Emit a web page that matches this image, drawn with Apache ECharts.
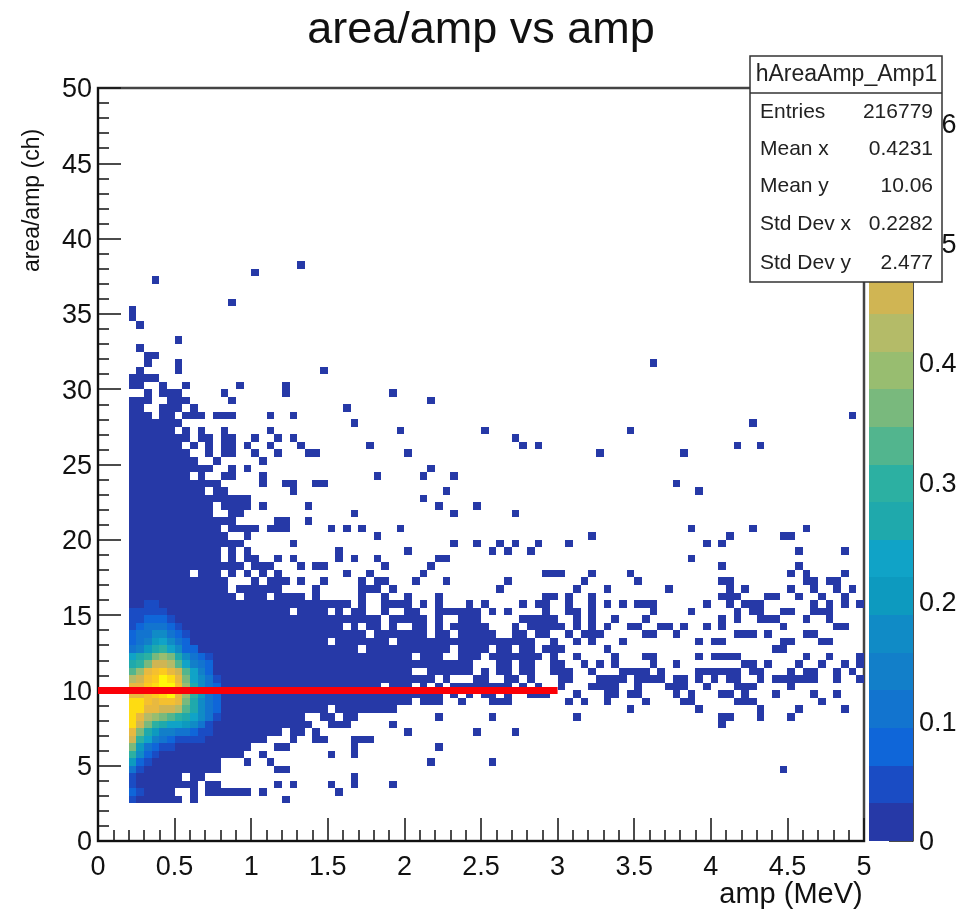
<!DOCTYPE html>
<html><head><meta charset="utf-8">
<style>html,body{margin:0;padding:0;background:#fff}#c{width:961px;height:912px}</style>
<script src="https://cdn.jsdelivr.net/npm/echarts@6/dist/echarts.min.js"></script>
</head><body><div id="c"></div>
<script>
const xBinWidth = 0.05;
const yBinWidth = 0.5;
const zStep = 0.0315;
const paletteColors = ['#2639a7','#1a4cc4','#0f66d9','#1274cf','#127fc9','#108bc6','#0d9abf','#10a3c7','#1fa9ac','#2cb0a2','#52b58e','#79b97d','#98bd70','#b4bb68','#d0b553','#e8b940','#f5c02f','#fcca1e','#fedc12','#fff60a'];
const colorBandLevels = [0,1,2,3,4,5,6,7,8,9,10,11,12,13,14,15,16,17,18,19];
// occupied bins: [row index, column indices / ranges]
const occupiedRows = [
[76,"26"],[75,"20"],[74,"7"],[71,"17"],[70,"4"],[69,"4"],[68,"5"],[66,"10"],[65,"5"],[64,"6 7"],[63,"6 10 72"],[62,"5 10 29"],
[61,"4-7"],[60,"4 5 8 11 18 24"],[59,"6 8-10 16 24 38"],[58,"4-6 9-11 17 43"],[57,"4 5 8-10 12 32"],
[56,"4-6 8 9 11-13 15-17 22 25 98"],[55,"4-10 33 85"],[54,"4-9 11 13 16 22 39 50 69"],
[53,"4-11 13 14 16 17 20 23 25 54"],[52,"4-10 12 14 16 17 19 22 26 35 55 57 83 86"],
[51,"4-11 14 16 17 20 23 27 28 40 65 76"],[50,"4-12 15 21"],[49,"4-14 17 19 43"],[48,"4-11 13 16 17 21 36 42 46"],
[47,"4-15 21 24 25 28 29 75"],[46,"4-13 15 16 25 45 78"],[45,"4-19 42"],[44,"4-14 16-19 21 27 44 49"],
[43,"4-14 17 18 33 46 54"],[42,"4-17 23 24 27"],[41,"4-15 17-20 22-24 30 32 34 39 77 85 92"],
[40,"4-16 19 36 64 82 89 90"],[39,"4-18 25 46 49 52 54 57 61 79 81"],[38,"4-15 17 19 31 40 51 53 56 91 97"],
[37,"4-15 17 19 20 23 25 31 33 36 44 45 77"],[36,"4-18 20-22 26 28 29 37 43 81 91"],
[35,"4-11 13-15 17 19 21 23 32 35 42 58-60 64 69 90 92 97"],
[34,"4-16 20 22-24 26 29 34 36 37 41 45 53 63 70 81 82 92 93 95 96"],
[33,"4-16 18-23 28 34-36 38 52 62 66 74 82 84 90 93 96 98"],
[32,"4-17 19-21 23-26 28 34 37 40 44 58 59 61 64 81-83 87 88 91 94 97"],
[31,"4-32 34 37-40 42 44 48 50 55 57 58 61 64 66 68 70-72 79 82 84-86 93 95 97 99"],
[30,"4-24 26-29 31 33 34 37 40 41 44-49 51 53 58 61 62 64 72 77 83 85 86 89 90 93-95"],
[29,"4-36 38-42 44 47-49 55-59 62 64 67 71 81 83 86-88 92 95"],
[28,"4-31 33 35 36 38 41 42 44 46-50 54 56-60 62 64 66 69 70 73 74 76 79 81 89 96 97"],
[27,"4-34 36-42 44 45 47-51 54 55 57 58 61 63-65 71 72 75 83-85 87 92 93"],
[26,"4-29 31-37 39-56 59 62 64 68 78 80 81 89 90 94 95"],
[25,"4-33 35-45 47-50 52 53 55 56 58-60 66 88 89"],
[24,"4-40 42-44 47-49 51-57 59 62 67 71 72 78 80-83 92 95 99"],
[23,"4-48 52 53 55 56 59 60 63 65 67 72 75 84 85 87 91 94 97 99"],
[22,"4-40 43-48 50 52 53 55 56 59-61 64 68-71 73 78-83 85 86 90 92 93 96 98"],
[21,"4-43 45 49 50 53 54 56 60 61 65-68 70-73 75 76 78 80 82 83 86 88-93 96 99"],
[20,"4-36 38-40 42 44 46-53 55 57 60 64-67 70 74-76 79 83-85 90"],
[19,"4-44 46 48 50 51 53 56-58 62 66 67 69 70 75 77 81 82 84 88 93 96"],
[18,"4-40 42-44 47 51-53 61 63 66 71 76 77 83-85 94"],
[17,"4-29 31-38 69 78 86 91 97"],[16,"4-26 29 30 32 33 44 51 62 81 82 86 90"],[15,"4-27 30-32 38 81"],
[14,"4-23 25 26 28 40 49 54"],[13,"4-21 25 28 29 33-35"],[12,"4-19 23 24 33 44"],[11,"4-18 21 30 33"],
[10,"4-15 19 22 43 51"],[9,"4-15 23 24 89"],[8,"4-10 12 13 33"],[7,"4-12 14 15 23 25 30 33 38"],
[6,"4-9 12 14-19 21 31"],[5,"4-10 12 24"]
];
// colour level read per bin: [row index, first column, levels]
const heatRows = [
[31,6,[1,1]],[30,4,[1,1,1,1,1]],[29,4,[1,1,2,2,2,1]],[28,4,[1,2,3,3,3,2,1]],[27,4,[2,3,3,5,5,3,2,1]],
[26,4,[2,3,4,6,7,5,3,2]],[25,4,[3,4,6,8,9,7,5,2,2]],[24,4,[7,8,9,11,12,11,8,5,3,2,1]],
[23,4,[8,9,11,14,14,13,10,7,4,3,2]],[22,4,[10,12,15,16,17,15,14,10,7,4,2]],
[21,4,[13,14,16,17,19,18,15,11,7,5,3,1]],[20,4,[15,15,17,18,19,19,16,12,8,5,3,2]],
[19,4,[15,15,16,17,18,19,15,12,9,6,3,2]],[18,4,[18,18,16,15,16,16,15,11,8,5,3,2]],
[17,4,[18,18,15,15,14,14,13,10,8,5,3,2]],[16,4,[18,15,13,12,11,10,9,8,7,5,3,1]],
[15,4,[18,14,11,9,8,7,7,6,5,3,1]],[14,4,[15,11,8,6,4,4,3,3,2,1,1]],[13,4,[14,9,7,4,3,2,1,1,1,1]],
[12,4,[11,6,3,2,1,1]],[11,4,[9,5,2,1]],[10,4,[6,2,1]],[9,4,[3,1]],[8,4,[1]],[7,4,[1]],[6,4,[2,1]],[5,4,[1]]
];
const meanLineX = [0,3];
const meanLineY = [10,10];
const statsTitle = 'hAreaAmp_Amp1';
const statsLabels = ['Entries','Mean x','Mean y','Std Dev x','Std Dev y'];
const statsValues = ['216779','0.4231','10.06','0.2282','2.477'];

const levelMap = {};
heatRows.forEach(([r,c0,ls])=>ls.forEach((l,i)=>{levelMap[r+':'+(c0+i)]=l;}));
const cells = [];
occupiedRows.forEach(([r,s])=>{
  s.split(' ').forEach(tok=>{
    const p = tok.split('-').map(Number);
    for(let c=p[0]; c<=(p.length>1?p[1]:p[0]); c++){
      const lvl = levelMap[r+':'+c]||0;
      cells.push([c*xBinWidth, r*yBinWidth, c*xBinWidth+xBinWidth, r*yBinWidth+yBinWidth, lvl]);
    }
  });
});
const bandData = colorBandLevels.map(l=>[0,l*zStep,1,(l+1)*zStep,l]);
function rectItem(params,api){
  const a = api.coord([api.value(0),api.value(1)]);
  const b = api.coord([api.value(2),api.value(3)]);
  const col = paletteColors[api.value(4)];
  const x0=Math.round(a[0]), x1=Math.round(b[0]), y0=Math.round(b[1]), y1=Math.round(a[1]);
  return {type:'rect',shape:{x:x0,y:y0,width:x1-x0,height:y1-y0},style:{fill:col}};
}
const FONT='"Liberation Sans", Arial, sans-serif';
const statsGraphics = [
  {type:'rect',z:100,shape:{x:750,y:56,width:192,height:226},style:{fill:'#fff',stroke:'#333',lineWidth:1.5}},
  {type:'line',z:101,shape:{x1:750,y1:93,x2:942,y2:93},style:{stroke:'#333',lineWidth:1.5}},
  {type:'text',z:101,x:846.5,y:75,style:{text:statsTitle,font:'23px '+FONT,fill:'#222',textAlign:'center',textVerticalAlign:'middle'}}
];
const statRowY=[112,149,186,224,263];
statsLabels.forEach((t,i)=>{
  statsGraphics.push({type:'text',z:101,x:760,y:statRowY[i],style:{text:t,font:'21px '+FONT,fill:'#222',textAlign:'left',textVerticalAlign:'middle'}});
  statsGraphics.push({type:'text',z:101,x:933,y:statRowY[i],style:{text:statsValues[i],font:'21px '+FONT,fill:'#222',textAlign:'right',textVerticalAlign:'middle'}});
});
const tickFont={fontFamily:FONT,fontSize:27,color:'#111'};
const chart = echarts.init(document.getElementById('c'),null,{renderer:'canvas'});
chart.setOption({
  animation:false,
  backgroundColor:'#fff',
  title:{text:'area/amp vs amp',left:476,top:3,textAlign:'center',textStyle:{fontFamily:FONT,fontSize:45,fontWeight:'normal',color:'#111'}},
  grid:[
    {left:98,top:88,width:766,height:753,show:true,borderColor:'#444',borderWidth:2.5,backgroundColor:'#fff',outerBoundsMode:'none'},
    {left:869,top:88,width:44,height:753,outerBoundsMode:'none'}
  ],
  xAxis:[
    {gridIndex:0,type:'value',min:0,max:5,interval:0.5,splitLine:{show:false},
     axisLine:{lineStyle:{color:'#111',width:2}},
     axisTick:{inside:true,length:23,lineStyle:{color:'#111',width:1.5}},
     minorTick:{show:true,splitNumber:5,length:11,lineStyle:{color:'#111',width:1.5}},
     minorSplitLine:{show:false},
     axisLabel:Object.assign({margin:13},tickFont),
     name:'amp (MeV)',nameLocation:'middle',nameGap:39,nameMoveOverlap:false,
     nameTextStyle:{fontFamily:FONT,fontSize:29,color:'#111',padding:[0,0,0,620]}},
    {gridIndex:1,type:'value',min:0,max:1,show:false}
  ],
  yAxis:[
    {gridIndex:0,type:'value',min:0,max:50,interval:5,splitLine:{show:false},
     axisLine:{lineStyle:{color:'#111',width:2}},
     axisTick:{inside:true,length:23,lineStyle:{color:'#111',width:1.5}},
     minorTick:{show:true,splitNumber:5,length:11,lineStyle:{color:'#111',width:1.5}},
     axisLabel:Object.assign({margin:6,verticalAlign:'top',lineHeight:4},tickFont),
     name:'area/amp (ch)',nameLocation:'middle',nameGap:54,nameRotate:90,nameMoveOverlap:false,
     nameTextStyle:{fontFamily:FONT,fontSize:23,color:'#111',padding:[0,0,0,528]}},
    {gridIndex:1,type:'value',position:'right',min:0,max:0.63,interval:0.1,splitLine:{show:false},
     axisLine:{show:true,onZero:false,lineStyle:{color:'#111',width:1.5}},
     axisTick:{inside:true,length:24,lineStyle:{color:'#111',width:1.5}},
     axisLabel:Object.assign({margin:6,showMaxLabel:false,verticalAlign:'top',lineHeight:4},tickFont)}
  ],
  series:[
    {type:'custom',name:'area/amp vs amp',xAxisIndex:0,yAxisIndex:0,renderItem:rectItem,data:cells,clip:true,
     encode:{x:[0,2],y:[1,3]},silent:true,z:2},
    {type:'line',name:'mean',xAxisIndex:0,yAxisIndex:0,data:meanLineX.map((x,i)=>[x,meanLineY[i]]),symbol:'none',
     lineStyle:{color:'#fb0007',width:7},z:5,silent:true},
    {type:'custom',name:'palette',xAxisIndex:1,yAxisIndex:1,renderItem:rectItem,data:bandData,
     encode:{x:[0,2],y:[1,3]},silent:true,z:2}
  ],
  graphic:{elements:statsGraphics}
});
</script></body></html>
